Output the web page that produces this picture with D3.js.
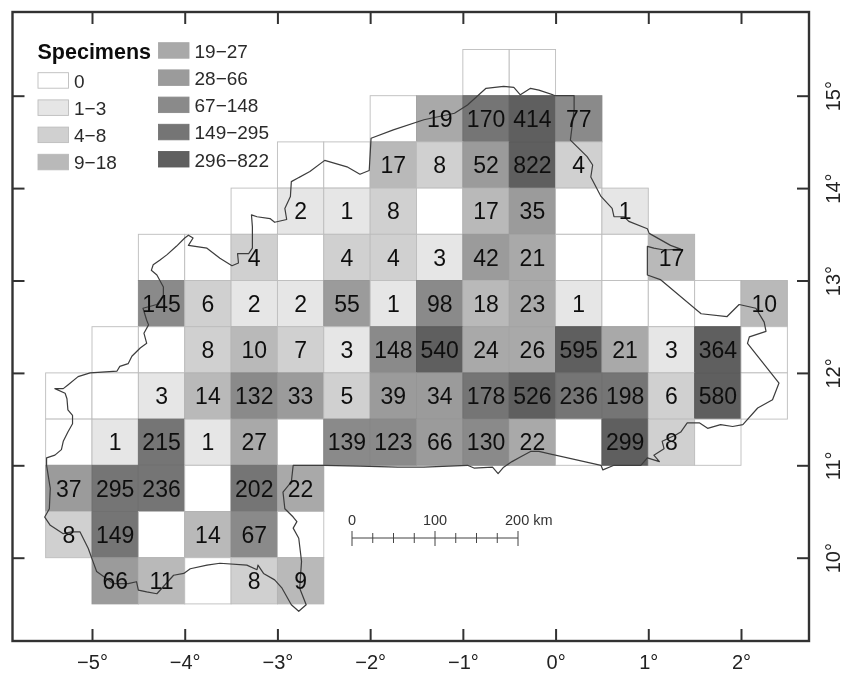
<!DOCTYPE html>
<html>
<head>
<meta charset="utf-8">
<script src="https://cdn.jsdelivr.net/npm/d3@7"></script>
<style>
  html, body { margin: 0; padding: 0; background: #fff; }
  svg { display: block; }
  text { font-family: "Liberation Sans", Arial, sans-serif; fill: #111; }
  .axis line { stroke: #333; stroke-width: 2; }
  .axis text { font-size: 20px; fill: #222; }
  .cell-label { font-size: 23px; text-anchor: middle; }
  .legend-label { font-size: 19px; fill: #2a2a2a; }
</style>
</head>
<body>
<svg width="848" height="675"></svg>
<script>
// half degree rows, south edge of each row + west edge of its first cell
var rowSouth = [15, 14.5, 14, 13.5, 13, 12.5, 12, 11.5, 11, 10.5, 10, 9.5];
var rowWest = [-1, -2, -3, -3.5, -4.5, -4.5, -5, -5.5, -5.5, -5.5, -5.5, -5];
var rowCounts = [
  [0, 0],
  [0, 19, 170, 414, 77],
  [0, 0, 17, 8, 52, 822, 4],
  [0, 2, 1, 8, 0, 17, 35, 0, 1],
  [0, 0, 4, 0, 4, 4, 3, 42, 21, 0, 0, 17],
  [145, 6, 2, 2, 55, 1, 98, 18, 23, 1, 0, 0, 0, 10],
  [0, 0, 8, 10, 7, 3, 148, 540, 24, 26, 595, 21, 3, 364, 0],
  [0, 0, 3, 14, 132, 33, 5, 39, 34, 178, 526, 236, 198, 6, 580, 0],
  [0, 1, 215, 1, 27, 0, 139, 123, 66, 130, 22, 0, 299, 8, 0],
  [37, 295, 236, 0, 202, 22],
  [8, 149, 0, 14, 67, 0],
  [66, 11, 0, 8, 9]
];

// legend classes
var classBreaks = [1, 4, 9, 19, 28, 67, 149, 296];
var classGreys = ["#ffffff", "#e6e6e6", "#d0d0d0", "#b9b9b9", "#a9a9a9", "#9b9b9b", "#8a8a8a", "#747474", "#5e5e5e"];
var classLabels = ["0", "1−3", "4−8", "9−18", "19−27", "28−66", "67−148", "149−295", "296−822"];

var lonTicks = [-5, -4, -3, -2, -1, 0, 1, 2];
var latTicks = [10, 11, 12, 13, 14, 15];
var scaleKm = [0, 25, 50, 75, 100, 125, 150, 175, 200];
var scaleKmLabels = [0, 100, 200];

// country outline, lon/lat
var border = [
  [-5.49, 11.00], [-5.49, 11.08], [-5.40, 11.11], [-5.33, 11.17], [-5.31, 11.26], [-5.26, 11.36],
  [-5.21, 11.45], [-5.21, 11.54], [-5.26, 11.60], [-5.27, 11.72], [-5.29, 11.78], [-5.40, 11.83],
  [-5.31, 11.83], [-5.26, 11.87], [-5.15, 11.96], [-5.02, 12.00], [-4.73, 12.02], [-4.70, 12.07],
  [-4.61, 12.10], [-4.57, 12.18], [-4.48, 12.27], [-4.41, 12.32], [-4.44, 12.43], [-4.39, 12.52],
  [-4.41, 12.57], [-4.45, 12.70], [-4.30, 12.74], [-4.23, 12.84], [-4.23, 12.93], [-4.30, 13.06],
  [-4.36, 13.11], [-4.34, 13.17], [-4.27, 13.22], [-4.19, 13.28], [-4.09, 13.37], [-4.00, 13.46],
  [-3.96, 13.49], [-3.91, 13.46], [-3.96, 13.38], [-3.76, 13.35], [-3.62, 13.24], [-3.49, 13.16],
  [-3.42, 13.19], [-3.43, 13.29], [-3.31, 13.29], [-3.27, 13.35], [-3.27, 13.58], [-3.28, 13.71],
  [-3.22, 13.69], [-3.08, 13.67], [-3.03, 13.63], [-2.90, 13.66], [-2.92, 13.78], [-2.86, 13.91],
  [-2.85, 14.07], [-2.65, 14.18], [-2.49, 14.30], [-2.25, 14.23], [-2.11, 14.15], [-2.01, 14.19],
  [-1.99, 14.54], [-1.75, 14.63], [-1.42, 14.74], [-1.09, 14.81], [-0.95, 14.90], [-0.75, 15.08],
  [-0.56, 15.10], [-0.45, 15.09], [-0.38, 15.01], [-0.27, 15.08], [-0.18, 15.06], [0.00, 15.00],
  [0.20, 15.00], [0.20, 14.85], [0.16, 14.52], [0.34, 14.34], [0.40, 14.25], [0.38, 14.12],
  [0.49, 13.91], [0.61, 13.78], [0.63, 13.69], [0.74, 13.69], [0.79, 13.64], [0.99, 13.56],
  [1.01, 13.51], [1.24, 13.38], [1.35, 13.34], [1.17, 13.33], [1.06, 13.35], [0.99, 13.37],
  [0.99, 13.06], [1.13, 13.01], [1.57, 12.64], [1.85, 12.61], [1.98, 12.74], [2.16, 12.70],
  [2.25, 12.55], [2.27, 12.45], [2.09, 12.39], [2.07, 12.32], [2.41, 11.89], [2.34, 11.71],
  [2.18, 11.62], [2.02, 11.44], [1.91, 11.42], [1.78, 11.44], [1.64, 11.40], [1.55, 11.46],
  [1.42, 11.46], [1.35, 11.36], [1.30, 11.33], [1.15, 11.26], [1.17, 11.18], [1.06, 11.11],
  [1.12, 11.04], [0.99, 11.08], [0.92, 11.00], [0.63, 11.00], [0.51, 10.95], [0.49, 11.00],
  [-0.18, 11.15], [-0.27, 11.15], [-0.38, 11.09], [-0.47, 11.04], [-0.56, 10.98], [-0.62, 10.91],
  [-0.68, 10.98], [-0.88, 10.97], [-0.95, 11.00], [-1.42, 10.98], [-1.70, 10.98], [-2.11, 10.99],
  [-2.50, 11.00], [-2.83, 11.00], [-2.85, 10.82], [-2.94, 10.71], [-2.92, 10.53], [-2.83, 10.44],
  [-2.79, 10.39], [-2.83, 10.32], [-2.77, 10.21], [-2.74, 9.96], [-2.76, 9.67], [-2.69, 9.49],
  [-2.77, 9.42], [-2.85, 9.49], [-2.95, 9.67], [-3.03, 9.76], [-3.15, 9.83], [-3.21, 9.92],
  [-3.22, 9.87], [-3.33, 9.92], [-3.62, 9.94], [-3.76, 9.92], [-3.94, 9.88], [-4.01, 9.83],
  [-4.12, 9.81], [-4.30, 9.61], [-4.41, 9.63], [-4.50, 9.65], [-4.52, 9.74], [-4.61, 9.72],
  [-4.77, 9.72], [-4.95, 9.85], [-4.99, 9.96], [-5.04, 10.10], [-5.13, 10.28], [-5.22, 10.28],
  [-5.31, 10.26], [-5.45, 10.35], [-5.51, 10.44], [-5.46, 10.53], [-5.45, 10.75]
];

var svg = d3.select("svg"),
    frame = {left: 12.5, right: 809, top: 12, bottom: 641};

// soft edges, the reference is a scanned figure
svg.append("defs").append("filter")
    .attr("id", "soft")
  .append("feGaussianBlur")
    .attr("stdDeviation", 0.4);

var root = svg.append("g").attr("filter", "url(#soft)");

// add scales
var x = d3.scaleLinear().domain([-5, 2]).range([92, 741]),
    y = d3.scaleLinear().domain([10, 15]).range([557.7, 95.7]),
    grey = d3.scaleThreshold().domain(classBreaks).range(classGreys);

// grid cells
var cells = [];
rowSouth.forEach(function(south, i) {
  rowCounts[i].forEach(function(n, j) {
    cells.push({west: rowWest[i] + j * 0.5, south: south, n: n});
  });
});

// light cells keep a visible grid line, dark ones melt together
function cellStroke(d) {
  return d.n < 9 ? "#bdbdbd" : d3.color(grey(d.n)).darker(0.1);
}

root.append("g").selectAll("rect")
    .data(cells)
  .enter().append("rect")
    .attr("x", function(d) { return x(d.west); })
    .attr("y", function(d) { return y(d.south + 0.5); })
    .attr("width", function(d) { return x(d.west + 0.5) - x(d.west); })
    .attr("height", function(d) { return y(d.south) - y(d.south + 0.5); })
    .attr("fill", function(d) { return grey(d.n); })
    .attr("stroke", cellStroke)
    .attr("stroke-width", 0.9);

// outline goes on top of the cells, under the numbers
root.append("path")
    .datum(border)
    .attr("fill", "none")
    .attr("stroke", "#3c3c3c")
    .attr("stroke-width", 1.2)
    .attr("stroke-linejoin", "round")
    .attr("d", d3.line()
      .x(function(d) { return x(d[0]); })
      .y(function(d) { return y(d[1]); })
      .curve(d3.curveLinearClosed));

root.append("g").selectAll("text")
    .data(cells.filter(function(d) { return d.n > 0; }))
  .enter().append("text")
    .attr("class", "cell-label")
    .attr("x", function(d) { return x(d.west + 0.25); })
    .attr("y", function(d) { return y(d.south + 0.25); })
    .attr("dy", ".36em")
    .text(function(d) { return d.n; });

// axes, ticks point inwards on all four sides
function deg(d) { return String(d).replace("-", "−") + "°"; }

root.append("g")
    .attr("class", "axis")
    .attr("transform", "translate(0," + frame.bottom + ")")
    .call(d3.axisBottom(x).tickValues(lonTicks).tickFormat(deg).tickSize(-12).tickPadding(14).tickSizeOuter(0))
  .select(".domain").remove();

root.append("g")
    .attr("class", "axis")
    .attr("transform", "translate(0," + frame.top + ")")
    .call(d3.axisTop(x).tickValues(lonTicks).tickFormat("").tickSize(-12).tickSizeOuter(0))
  .select(".domain").remove();

root.append("g")
    .attr("class", "axis")
    .attr("transform", "translate(" + frame.left + ",0)")
    .call(d3.axisLeft(y).tickValues(latTicks).tickFormat("").tickSize(-12).tickSizeOuter(0))
  .select(".domain").remove();

var rightAxis = root.append("g")
    .attr("class", "axis")
    .attr("transform", "translate(" + frame.right + ",0)")
    .call(d3.axisRight(y).tickValues(latTicks).tickFormat(deg).tickSize(-12).tickSizeOuter(0));
rightAxis.select(".domain").remove();
rightAxis.selectAll("text")
    .attr("x", 0)
    .attr("dy", 0)
    .attr("text-anchor", "middle")
    .attr("transform", "translate(31,0) rotate(-90)");

root.append("rect")
    .attr("x", frame.left)
    .attr("y", frame.top)
    .attr("width", frame.right - frame.left)
    .attr("height", frame.bottom - frame.top)
    .attr("fill", "none")
    .attr("stroke", "#333")
    .attr("stroke-width", 2.4);

// distance bar
var km = d3.scaleLinear().domain([0, 200]).range([352, 518]);
var bar = root.append("g").attr("transform", "translate(0,538)");

bar.append("line")
    .attr("x1", km(0))
    .attr("x2", km(200))
    .attr("stroke", "#444")
    .attr("stroke-width", 1);

bar.selectAll(".km-tick")
    .data(scaleKm)
  .enter().append("line")
    .attr("class", "km-tick")
    .attr("x1", km)
    .attr("x2", km)
    .attr("y1", function(d) { return d % 100 === 0 ? -7 : -5; })
    .attr("y2", function(d) { return d % 100 === 0 ? 8 : 5; })
    .attr("stroke", "#444")
    .attr("stroke-width", 1);

bar.selectAll(".km-label")
    .data(scaleKmLabels)
  .enter().append("text")
    .attr("class", "km-label")
    .attr("x", km)
    .attr("y", -13)
    .attr("text-anchor", function(d) { return d === 200 ? "start" : "middle"; })
    .attr("dx", function(d) { return d === 200 ? -13 : 0; })
    .style("font-size", "14.5px")
    .style("fill", "#333")
    .text(function(d) { return d === 200 ? "200 km" : d; });

// legend, two columns
var legend = root.append("g");

legend.append("text")
    .attr("x", 37.5)
    .attr("y", 59)
    .style("font-size", "21.5px")
    .style("font-weight", "bold")
    .text("Specimens");

var rowY = d3.scaleLinear().domain([0, 1]).range([0, 27.2]);

var item = legend.selectAll(".item")
    .data(classLabels)
  .enter().append("g")
    .attr("class", "item")
    .attr("transform", function(d, i) {
      return i < 4 ? "translate(38," + (72.7 + rowY(i)) + ")"
                   : "translate(158.5," + (42.7 + rowY(i - 4)) + ")";
    });

item.append("rect")
    .attr("width", 30.5)
    .attr("height", 15.5)
    .attr("fill", function(d, i) { return classGreys[i]; })
    .attr("stroke", function(d, i) { return i < 3 ? "#bdbdbd" : classGreys[i]; })
    .attr("stroke-width", 0.9);

item.append("text")
    .attr("class", "legend-label")
    .attr("x", 36)
    .attr("y", 15)
    .text(function(d) { return d; });
</script>
</body>
</html>
